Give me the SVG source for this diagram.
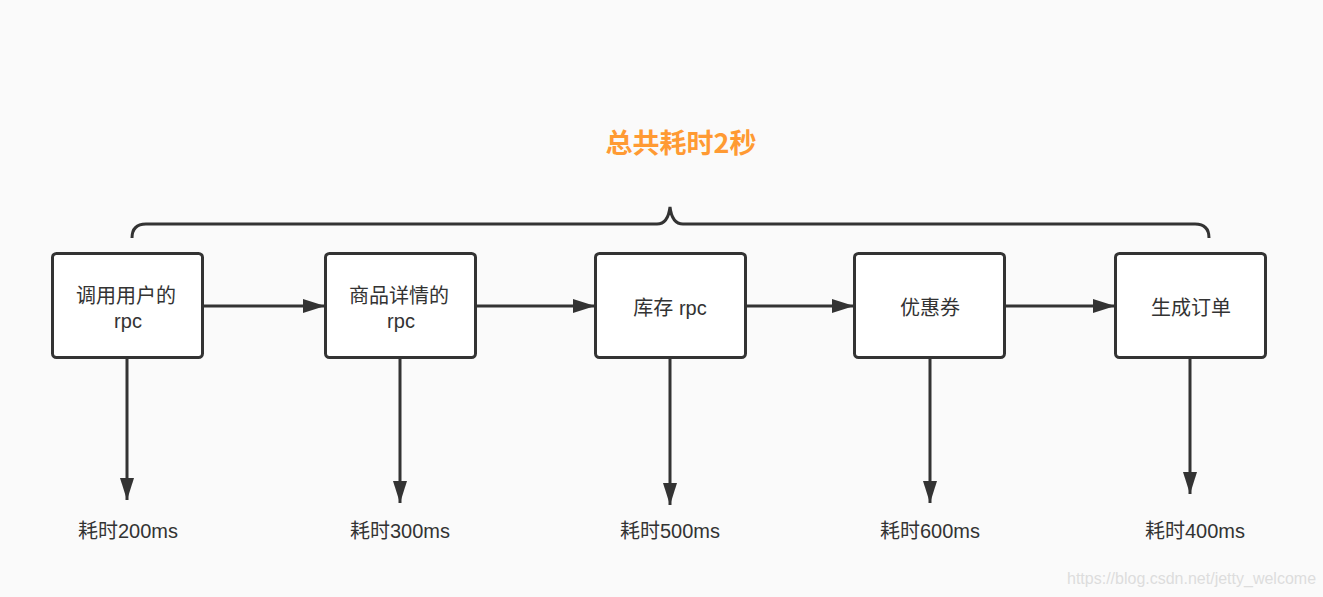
<svg xmlns="http://www.w3.org/2000/svg" width="1323" height="597" viewBox="0 0 1323 597">
<style>
.box{fill:#ffffff;stroke:#333333;stroke-width:3}
.t{font-family:"Liberation Sans","Noto Sans CJK SC",sans-serif;font-size:20px;fill:#333333;text-anchor:middle}
.ln{fill:none;stroke:#333333;stroke-width:3}
.title{font-family:"Noto Sans CJK SC",sans-serif;font-size:27px;font-weight:bold;fill:#FF9A33;text-anchor:middle}
.wm{font-family:"Liberation Sans",sans-serif;font-size:16px;fill:#dddddd}
</style>
<defs>
<marker id="ah" viewBox="0 0 22 14" refX="22" refY="7" markerWidth="22" markerHeight="14" markerUnits="userSpaceOnUse" orient="auto">
<path d="M0,0 L22,7 L0,14 Z" fill="#333333"/>
</marker>
</defs>
<rect width="1323" height="597" fill="#fafafa"/>
<text class="title" x="681" y="153">总共耗时2秒</text>
<g id="brace"><path class="ln" d="M132,238 Q132,224 146,224 L657,224 Q668,224 670,207 Q672,224 683,224 L1195,224 Q1209,224 1209,238"/></g>
<g id="connectors">
<line class="ln" x1="203" y1="306" x2="325" y2="306" marker-end="url(#ah)"/>
<line class="ln" x1="476" y1="306" x2="595" y2="306" marker-end="url(#ah)"/>
<line class="ln" x1="746" y1="306" x2="854" y2="306" marker-end="url(#ah)"/>
<line class="ln" x1="1005" y1="306" x2="1115" y2="306" marker-end="url(#ah)"/>
<line class="ln" x1="127" y1="358" x2="127" y2="500" marker-end="url(#ah)"/>
<line class="ln" x1="400" y1="358" x2="400" y2="503" marker-end="url(#ah)"/>
<line class="ln" x1="670" y1="358" x2="670" y2="505" marker-end="url(#ah)"/>
<line class="ln" x1="930" y1="358" x2="930" y2="503" marker-end="url(#ah)"/>
<line class="ln" x1="1190" y1="358" x2="1190" y2="494" marker-end="url(#ah)"/>
</g>
<g id="n1"><rect class="box" x="52.5" y="253.5" width="150" height="104" rx="4"/><text class="t" x="126" y="303">调用用户的</text><text class="t" x="128" y="328">rpc</text></g>
<g id="n2"><rect class="box" x="325.5" y="253.5" width="150" height="104" rx="4"/><text class="t" x="399" y="303">商品详情的</text><text class="t" x="401" y="328">rpc</text></g>
<g id="n3"><rect class="box" x="595.5" y="253.5" width="150" height="104" rx="4"/><text class="t" x="670" y="315">库存 rpc</text></g>
<g id="n4"><rect class="box" x="854.5" y="253.5" width="150" height="104" rx="4"/><text class="t" x="930" y="315">优惠券</text></g>
<g id="n5"><rect class="box" x="1115.5" y="253.5" width="150" height="104" rx="4"/><text class="t" x="1191" y="315">生成订单</text></g>
<g id="l1"><text class="t" x="128" y="538">耗时200ms</text></g>
<g id="l2"><text class="t" x="400" y="538">耗时300ms</text></g>
<g id="l3"><text class="t" x="670" y="538">耗时500ms</text></g>
<g id="l4"><text class="t" x="930" y="538">耗时600ms</text></g>
<g id="l5"><text class="t" x="1195" y="538">耗时400ms</text></g>
<text class="wm" x="1067" y="584">https://blog.csdn.net/jetty_welcome</text>
</svg>
